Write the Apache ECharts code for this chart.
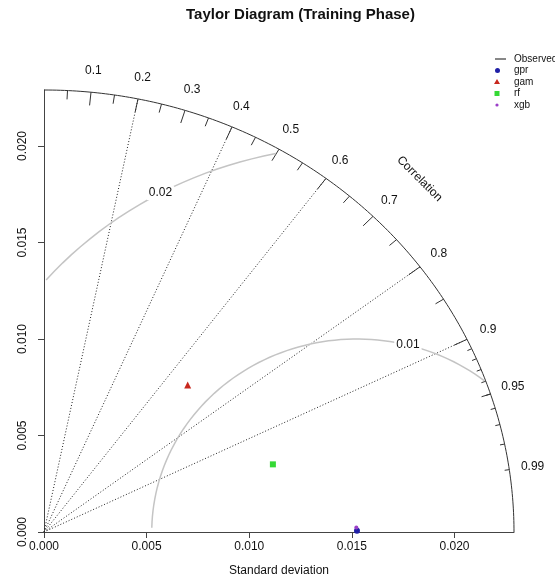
<!DOCTYPE html>
<html>
<head>
<meta charset="utf-8">
<script src="https://cdn.jsdelivr.net/npm/echarts@6/dist/echarts.min.js"></script>
<style>
  html, body { margin: 0; padding: 0; background: #fff; }
  #chart { width: 555px; height: 582px; }
</style>
</head>
<body>
<div id="chart"></div>
<script>
// model statistics
const models = ['gpr', 'gam', 'rf', 'xgb'];
const modelSD = [0.01525, 0.01034, 0.01169, 0.01522];
const modelCor = [0.99999, 0.677, 0.954, 0.99988];
const modelColors = ['#1f1fa6', '#c8281e', '#35d935', '#9b3fc8'];
const modelSymbols = ['circle', 'triangle', 'rect', 'circle'];
const modelSizes = [6, 7, 6, 4];

const refSD = 0.01525;      // observed standard deviation
const maxSD = 0.0229;
const sdTicks = [0, 0.005, 0.01, 0.015, 0.02];
const corLabels = [0.1, 0.2, 0.3, 0.4, 0.5, 0.6, 0.7, 0.8, 0.9, 0.95, 0.99];
const corBigTicks = [0.1, 0.2, 0.3, 0.4, 0.5, 0.6, 0.7, 0.8, 0.9];
const corMedTicks = [0.05, 0.15, 0.25, 0.35, 0.45, 0.55, 0.65, 0.75, 0.85, 0.95];
const corSmallTicks = [0.91, 0.92, 0.93, 0.94, 0.95, 0.96, 0.97, 0.98, 0.99];
const corLines = [0.2, 0.4, 0.6, 0.8, 0.9];
const rmsLevels = [0.01, 0.02];
const rmsLabelPos = [45, 70];

const font = '"Liberation Sans", Arial, sans-serif';
const chart = echarts.init(document.getElementById('chart'));

function polar(cor, r) {
  return [r * cor, r * Math.sqrt(1 - cor * cor)];
}

function frame(params, api) {
  const kids = [];
  const pt = (p) => api.coord(p);
  // outer arc
  const arc = [];
  for (let a = 0; a <= 180; a++) {
    const t = a * Math.PI / 360;
    arc.push(pt([maxSD * Math.cos(t), maxSD * Math.sin(t)]));
  }
  kids.push({ type: 'polyline', shape: { points: arc }, style: { stroke: '#333', fill: null, lineWidth: 1 } });
  // dotted correlation lines
  corLines.forEach(c => {
    const a = pt([0, 0]), b = pt(polar(c, maxSD));
    kids.push({ type: 'line', shape: { x1: a[0], y1: a[1], x2: b[0], y2: b[1] },
      style: { stroke: '#222', lineWidth: 1, lineDash: [1, 2] } });
  });
  // ticks on the arc
  const tick = (c, f) => {
    const a = pt(polar(c, maxSD)), b = pt(polar(c, maxSD * f));
    kids.push({ type: 'line', shape: { x1: a[0], y1: a[1], x2: b[0], y2: b[1] }, style: { stroke: '#333', lineWidth: 1 } });
  };
  corBigTicks.forEach(c => tick(c, 0.97));
  corMedTicks.forEach(c => tick(c, 0.98));
  corSmallTicks.forEach(c => tick(c, 0.99));
  // correlation labels
  corLabels.forEach(c => {
    const p = pt(polar(c, maxSD * 1.05));
    kids.push({ type: 'text', x: p[0], y: p[1], style: { text: String(c), fill: '#111', font: '12px ' + font, align: 'center', verticalAlign: 'middle' } });
  });
  const cp = pt([Math.cos(Math.PI / 4) * maxSD * 1.13, Math.sin(Math.PI / 4) * maxSD * 1.13]);
  kids.push({ type: 'text', x: cp[0], y: cp[1], rotation: -Math.PI / 4,
    style: { text: 'Correlation', fill: '#111', font: '12px ' + font, align: 'center', verticalAlign: 'middle' } });
  // centred RMS difference arcs
  rmsLevels.forEach((g, gi) => {
    const pts = [];
    for (let i = 0; i < 105; i++) {
      const t = i * 0.03;
      const x = Math.cos(t) * g + refSD, y = Math.sin(t) * g;
      if (x < 0 || x * x + y * y > maxSD * maxSD) continue;
      pts.push(pt([x, y]));
    }
    kids.push({ type: 'polyline', shape: { points: pts }, style: { stroke: '#c4c4c4', fill: null, lineWidth: 1.5 } });
    const t = (rmsLabelPos[gi] - 1) * 0.03;
    const lp = pt([Math.cos(t) * g + refSD, Math.sin(t) * g]);
    kids.push({ type: 'text', x: lp[0], y: lp[1], z2: 10,
      style: { text: String(g), fill: '#111', font: '12px ' + font, align: 'center', verticalAlign: 'middle',
        backgroundColor: '#fff', padding: [1, 2] } });
  });
  return { type: 'group', children: kids };
}

const legendY = [59, 70.5, 82, 93.5, 105];
const legendItems = [
  { type: 'line', shape: { x1: 495, y1: legendY[0], x2: 506, y2: legendY[0] }, style: { stroke: '#111', lineWidth: 1 } },
  { type: 'text', x: 514, y: legendY[0], style: { text: 'Observed', fill: '#111', font: '10px ' + font, verticalAlign: 'middle' } }
];
models.forEach((m, i) => {
  legendItems.push({ type: 'text', x: 514, y: legendY[i + 1], style: { text: m, fill: '#111', font: '10px ' + font, verticalAlign: 'middle' } });
});
legendItems.push({ type: 'circle', shape: { cx: 497.5, cy: legendY[1], r: 2.5 }, style: { fill: modelColors[0] } });
legendItems.push({ type: 'polygon', shape: { points: [[497, legendY[2] - 3], [500, legendY[2] + 2], [494, legendY[2] + 2]] }, style: { fill: modelColors[1] } });
legendItems.push({ type: 'rect', shape: { x: 494.5, y: legendY[3] - 2.5, width: 5, height: 5 }, style: { fill: modelColors[2] } });
legendItems.push({ type: 'circle', shape: { cx: 497, cy: legendY[4], r: 1.6 }, style: { fill: modelColors[3] } });

const axisCommon = {
  type: 'value', min: 0, max: maxSD,
  axisLine: { show: true, lineStyle: { color: '#444', width: 1 } },
  axisTick: { show: true, length: 6, lineStyle: { color: '#444' }, customValues: sdTicks },
  axisLabel: { color: '#111', fontSize: 12, fontFamily: font, customValues: sdTicks, formatter: v => v.toFixed(3) },
  splitLine: { show: false }
};

chart.setOption({
  animation: false,
  backgroundColor: '#fff',
  title: { text: 'Taylor Diagram (Training Phase)', left: 186, top: 7, padding: 0,
    textStyle: { fontSize: 15, fontWeight: 'bold', fontFamily: font, color: '#111' } },
  grid: { left: 44, right: 41, top: 90, bottom: 49 },
  xAxis: Object.assign({}, axisCommon, {
    name: 'Standard deviation', nameLocation: 'middle', nameGap: 33,
    nameTextStyle: { color: '#111', fontSize: 12, fontFamily: font },
    axisLabel: Object.assign({}, axisCommon.axisLabel, { margin: 9 })
  }),
  yAxis: Object.assign({}, axisCommon, {
    axisLabel: Object.assign({}, axisCommon.axisLabel, { rotate: 90, margin: 15 })
  }),
  graphic: legendItems,
  series: [
    { type: 'custom', coordinateSystem: 'cartesian2d', silent: true, clip: false, data: [[0, 0]], renderItem: frame, z: 1 },
    ...models.map((m, i) => ({
      name: m, type: 'scatter', z: 5,
      symbol: modelSymbols[i], symbolSize: modelSizes[i],
      itemStyle: { color: modelColors[i], opacity: 1 },
      data: [polar(modelCor[i], modelSD[i])]
    }))
  ]
});
</script>
</body>
</html>
